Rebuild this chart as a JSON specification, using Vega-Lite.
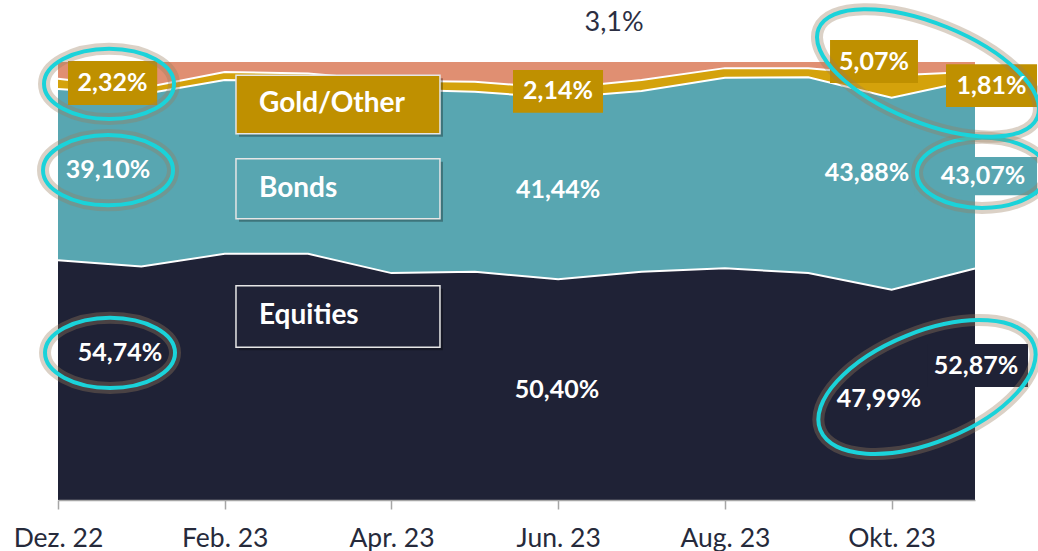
{
  "$schema": "https://vega.github.io/schema/vega-lite/v6.json",
  "width": 917,
  "height": 438,
  "autosize": "none",
  "padding": {"left": 58, "top": 62, "right": 63, "bottom": 51},
  "background": "white",
  "config": {"view": {"stroke": null}, "font": "Lato"},
  "datasets": {
    "allocation": [
      {"Index": 0, "Monat": "Dez. 22", "Equities": 54.74, "Bonds": 39.10, "Gold/Other": 2.32, "Cash": 3.84},
      {"Index": 1, "Monat": "Jan. 23", "Equities": 53.3, "Bonds": 39.3, "Gold/Other": 1.4, "Cash": 6.0},
      {"Index": 2, "Monat": "Feb. 23", "Equities": 56.2, "Bonds": 39.7, "Gold/Other": 1.8, "Cash": 2.3},
      {"Index": 3, "Monat": "Mär. 23", "Equities": 56.2, "Bonds": 39.3, "Gold/Other": 1.9, "Cash": 2.6},
      {"Index": 4, "Monat": "Apr. 23", "Equities": 51.8, "Bonds": 41.9, "Gold/Other": 2.0, "Cash": 4.3},
      {"Index": 5, "Monat": "Mai 23", "Equities": 52.1, "Bonds": 41.1, "Gold/Other": 2.3, "Cash": 4.5},
      {"Index": 6, "Monat": "Jun. 23", "Equities": 50.40, "Bonds": 41.44, "Gold/Other": 2.14, "Cash": 6.02},
      {"Index": 7, "Monat": "Jul. 23", "Equities": 52.1, "Bonds": 41.3, "Gold/Other": 2.5, "Cash": 4.1},
      {"Index": 8, "Monat": "Aug. 23", "Equities": 52.9, "Bonds": 43.5, "Gold/Other": 2.2, "Cash": 1.4},
      {"Index": 9, "Monat": "Sep. 23", "Equities": 51.8, "Bonds": 44.7, "Gold/Other": 2.1, "Cash": 1.4},
      {"Index": 10, "Monat": "Okt. 23", "Equities": 47.99, "Bonds": 43.88, "Gold/Other": 5.07, "Cash": 3.06},
      {"Index": 11, "Monat": "Nov. 23", "Equities": 52.87, "Bonds": 43.07, "Gold/Other": 1.81, "Cash": 2.25}
    ],
    "legendBoxes": [
      {"Art": "gold", "Index": 2.135, "Index2": 4.582, "Wert": 97.0, "Wert2": 83.6},
      {"Art": "teal", "Index": 2.135, "Index2": 4.582, "Wert": 77.9, "Wert2": 64.2},
      {"Art": "navy", "Index": 2.135, "Index2": 4.582, "Wert": 48.9, "Wert2": 34.9}
    ],
    "labelBoxes": [
      {"Art": "gold", "Index": 0.12, "Index2": 1.19, "Wert": 100.2, "Wert2": 90.2},
      {"Art": "gold", "Index": 5.458, "Index2": 6.538, "Wert": 98.2, "Wert2": 88.4},
      {"Art": "gold", "Index": 9.261, "Index2": 10.316, "Wert": 105.0, "Wert2": 95.2},
      {"Art": "gold", "Index": 10.652, "Index2": 11.744, "Wert": 99.5, "Wert2": 89.7},
      {"Art": "teal", "Index": 10.28, "Index2": 11.744, "Wert": 78.3, "Wert2": 69.6},
      {"Art": "navy", "Index": 10.436, "Index2": 11.636, "Wert": 35.6, "Wert2": 25.8}
    ],
    "valueLabels": [
      {"Index": 0.654, "Wert": 95.2, "Text": "2,32%"},
      {"Index": 0.60, "Wert": 75.3, "Text": "39,10%"},
      {"Index": 0.744, "Wert": 33.6, "Text": "54,74%"},
      {"Index": 5.998, "Wert": 93.3, "Text": "2,14%"},
      {"Index": 6.0, "Wert": 70.8, "Text": "41,44%"},
      {"Index": 5.986, "Wert": 25.1, "Text": "50,40%"},
      {"Index": 9.788, "Wert": 100.1, "Text": "5,07%"},
      {"Index": 11.198, "Wert": 94.6, "Text": "1,81%"},
      {"Index": 9.704, "Wert": 74.7, "Text": "43,88%"},
      {"Index": 11.096, "Wert": 74.0, "Text": "43,07%"},
      {"Index": 9.848, "Wert": 23.1, "Text": "47,99%"},
      {"Index": 11.012, "Wert": 30.6, "Text": "52,87%"}
    ],
    "legendLabels": [
      {"Index": 2.411, "Wert": 90.3, "Text": "Gold/Other"},
      {"Index": 2.411, "Wert": 71.0, "Text": "Bonds"},
      {"Index": 2.411, "Wert": 41.9, "Text": "Equities"}
    ],
    "note": [
      {"Index": 6.67, "Wert": 108.9, "Text": "3,1%"}
    ],
    "rings": [
      {"Ring": "klein", "Index": 0.612, "Wert": 95.0},
      {"Ring": "klein", "Index": 0.600, "Wert": 75.3},
      {"Ring": "klein", "Index": 0.624, "Wert": 33.6},
      {"Ring": "klein", "Index": 11.084, "Wert": 74.7},
      {"Ring": "oben", "Index": 10.436, "Wert": 97.5},
      {"Ring": "unten", "Index": 10.424, "Wert": 25.8}
    ]
  },
  "encoding": {
    "x": {
      "field": "Index", "type": "quantitative",
      "scale": {"domain": [0, 11], "nice": false, "zero": false},
      "axis": {
        "values": [0, 2, 4, 6, 8, 10],
        "labelExpr": "['Dez. 22','Jan. 23','Feb. 23','Mär. 23','Apr. 23','Mai 23','Jun. 23','Jul. 23','Aug. 23','Sep. 23','Okt. 23','Nov. 23'][datum.value]",
        "title": null, "grid": false,
        "domainColor": "#A6A6A6", "domainWidth": 1.5,
        "tickColor": "#A6A6A6", "tickWidth": 1.5, "tickSize": 9,
        "labelFont": "Lato", "labelFontSize": 26.5, "labelColor": "#262A3B",
        "labelPadding": 16, "labelFlush": false, "labelOverlap": false, "zindex": 1
      }
    },
    "y": {
      "field": "Wert", "type": "quantitative",
      "scale": {"domain": [0, 100], "nice": false, "zero": false},
      "axis": null
    }
  },
  "layer": [
    {
      "data": {"name": "allocation"},
      "transform": [
        {"fold": ["Equities", "Bonds", "Gold/Other", "Cash"], "as": ["Klasse", "Anteil"]},
        {"calculate": "indexof(['Equities','Bonds','Gold/Other','Cash'], datum.Klasse)", "as": "Rang"},
        {"stack": "Anteil", "groupby": ["Index"], "sort": [{"field": "Rang", "order": "ascending"}], "as": ["unten", "oben"]}
      ],
      "mark": {"type": "area", "interpolate": "linear"},
      "encoding": {
        "y": {"field": "oben", "type": "quantitative", "scale": {"domain": [0, 100], "nice": false, "zero": false}, "axis": null},
        "y2": {"field": "unten"},
        "color": {
          "field": "Klasse", "type": "nominal",
          "scale": {"domain": ["Equities", "Bonds", "Gold/Other", "Cash"], "range": ["#1F2236", "#58A6B1", "#D4A20B", "#E08F72"]},
          "legend": null
        }
      }
    },
    {
      "data": {"name": "allocation"},
      "transform": [
        {"fold": ["Equities", "Bonds", "Gold/Other", "Cash"], "as": ["Klasse", "Anteil"]},
        {"calculate": "indexof(['Equities','Bonds','Gold/Other','Cash'], datum.Klasse)", "as": "Rang"},
        {"stack": "Anteil", "groupby": ["Index"], "sort": [{"field": "Rang", "order": "ascending"}], "as": ["unten", "oben"]},
        {"filter": "datum.Klasse != 'Cash'"}
      ],
      "mark": {"type": "line", "color": "white", "strokeWidth": 2},
      "encoding": {
        "y": {"field": "oben", "type": "quantitative", "scale": {"domain": [0, 100], "nice": false, "zero": false}, "axis": null},
        "detail": {"field": "Klasse", "type": "nominal"}
      }
    },
    {
      "data": {"name": "legendBoxes"},
      "mark": {"type": "rect", "fill": "black", "opacity": 0.3, "xOffset": 3, "x2Offset": 3, "yOffset": 3, "y2Offset": 3},
      "encoding": {
        "x2": {"field": "Index2"},
        "y2": {"field": "Wert2"}
      }
    },
    {
      "data": {"name": "legendBoxes"},
      "mark": {"type": "rect", "stroke": "#E6E6E6", "strokeWidth": 1.5},
      "encoding": {
        "x2": {"field": "Index2"},
        "y2": {"field": "Wert2"},
        "fill": {"field": "Art", "type": "nominal", "scale": {"domain": ["gold", "teal", "navy"], "range": ["#BF9000", "#58A6B1", "#1F2236"]}, "legend": null}
      }
    },
    {
      "data": {"name": "labelBoxes"},
      "mark": {"type": "rect"},
      "encoding": {
        "x2": {"field": "Index2"},
        "y2": {"field": "Wert2"},
        "fill": {"field": "Art", "type": "nominal", "scale": {"domain": ["gold", "teal", "navy"], "range": ["#BF9000", "#58A6B1", "#1F2236"]}, "legend": null}
      }
    },
    {
      "data": {"name": "rings"},
      "transform": [{"filter": "datum.Ring == 'klein'"}],
      "mark": {"type": "point", "shape": "M -1 0 A 1 0.54 0 1 1 1 0 A 1 0.54 0 1 1 -1 0 Z", "size": 16900, "filled": false, "stroke": "#9A7E5E", "strokeWidth": 12, "opacity": 0.35}
    },
    {
      "data": {"name": "rings"},
      "transform": [{"filter": "datum.Ring == 'klein'"}],
      "mark": {"type": "point", "shape": "M -1 0 A 1 0.54 0 1 1 1 0 A 1 0.54 0 1 1 -1 0 Z", "size": 16900, "filled": false, "stroke": "#1AD3DA", "strokeWidth": 4, "opacity": 1}
    },
    {
      "data": {"name": "rings"},
      "transform": [{"filter": "datum.Ring == 'oben'"}],
      "mark": {"type": "point", "shape": "M -1 0 A 1 0.42 0 1 1 1 0 A 1 0.42 0 1 1 -1 0 Z", "size": 55696, "angle": 22, "filled": false, "stroke": "#9A7E5E", "strokeWidth": 12, "opacity": 0.35}
    },
    {
      "data": {"name": "rings"},
      "transform": [{"filter": "datum.Ring == 'oben'"}],
      "mark": {"type": "point", "shape": "M -1 0 A 1 0.42 0 1 1 1 0 A 1 0.42 0 1 1 -1 0 Z", "size": 55696, "angle": 22, "filled": false, "stroke": "#1AD3DA", "strokeWidth": 4, "opacity": 1}
    },
    {
      "data": {"name": "rings"},
      "transform": [{"filter": "datum.Ring == 'unten'"}],
      "mark": {"type": "point", "shape": "M -1 0 A 1 0.48 0 1 1 1 0 A 1 0.48 0 1 1 -1 0 Z", "size": 52900, "angle": -22, "filled": false, "stroke": "#9A7E5E", "strokeWidth": 12, "opacity": 0.35}
    },
    {
      "data": {"name": "rings"},
      "transform": [{"filter": "datum.Ring == 'unten'"}],
      "mark": {"type": "point", "shape": "M -1 0 A 1 0.48 0 1 1 1 0 A 1 0.48 0 1 1 -1 0 Z", "size": 52900, "angle": -22, "filled": false, "stroke": "#1AD3DA", "strokeWidth": 4, "opacity": 1}
    },
    {
      "data": {"name": "valueLabels"},
      "mark": {"type": "text", "font": "Lato", "fontSize": 25, "fontWeight": "bold", "color": "white", "align": "center", "baseline": "middle"},
      "encoding": {"text": {"field": "Text", "type": "nominal"}}
    },
    {
      "data": {"name": "legendLabels"},
      "mark": {"type": "text", "font": "Lato", "fontSize": 28, "fontWeight": "bold", "color": "white", "align": "left", "baseline": "middle"},
      "encoding": {"text": {"field": "Text", "type": "nominal"}}
    },
    {
      "data": {"name": "note"},
      "mark": {"type": "text", "font": "Lato", "fontSize": 27, "color": "#2B2E42", "align": "center", "baseline": "middle"},
      "encoding": {"text": {"field": "Text", "type": "nominal"}}
    }
  ]
}
